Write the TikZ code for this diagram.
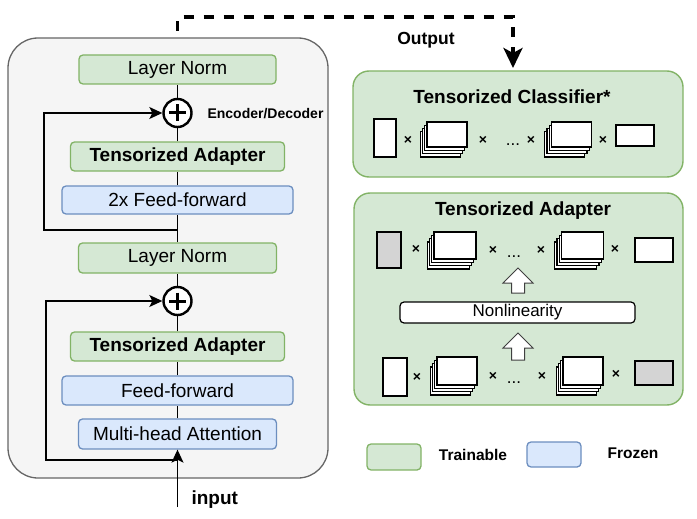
\documentclass[tikz,border=0pt]{standalone}
\usepackage{fontspec}
\setmainfont{Liberation Sans}
\usetikzlibrary{arrows.meta,positioning}

\definecolor{trainfill}{HTML}{D5E8D4}
\definecolor{traindraw}{HTML}{82B366}
\definecolor{frozenfill}{HTML}{DAE8FC}
\definecolor{frozendraw}{HTML}{6C8EBF}
\definecolor{blockfill}{HTML}{F5F5F5}
\definecolor{blockdraw}{HTML}{666666}
\definecolor{coregray}{HTML}{D4D4D4}

\tikzset{
  trainable/.style={draw=traindraw, fill=trainfill, line width=1.3pt, rounded corners=4pt,
    inner sep=0pt, minimum height=29pt, font=\fontsize{19}{22}\selectfont},
  frozen/.style={draw=frozendraw, fill=frozenfill, line width=1.3pt, rounded corners=4pt,
    inner sep=0pt, minimum height=29pt, font=\fontsize{19}{22}\selectfont},
  boldtext/.style={font=\bfseries\fontsize{19}{22}\selectfont},
  panel/.style={draw=traindraw, fill=trainfill, line width=1.4pt, rounded corners=16pt, inner sep=0pt},
  core/.style={draw, fill=white, line width=1.2pt, inner sep=0pt},
  corelayer/.style={draw, fill=white, line width=1.2pt},
  times/.style={font=\bfseries\fontsize{14}{14}\selectfont, inner sep=0pt},
  dots/.style={font=\fontsize{17}{17}\selectfont, inner sep=0pt},
  addop/.style={circle, draw, line width=2.4pt, fill=white, minimum size=28pt, inner sep=0pt},
  flow/.style={line width=1.3pt},
  hollow/.style={draw=black!75, fill=white, line width=1pt, line join=miter},
}

\begin{document}
\begin{tikzpicture}[x=1pt,y=-1pt]
\useasboundingbox (0,0) rectangle (697,519);

% encoder/decoder block
\draw[draw=blockdraw, fill=blockfill, line width=1.3pt, rounded corners=30pt] (8,38) rectangle (328,478);
\node[trainable, minimum width=197pt] (ln1) at (177.5,69.5) {Layer Norm};
\node[addop] (add1) at (177.5,113) {};
\node[trainable, boldtext, minimum width=214pt] (ta1) at (177.5,156.5) {Tensorized Adapter};
\node[frozen, minimum width=231pt, minimum height=28pt] (ff2) at (177.5,200) {2x Feed-forward};
\node[trainable, minimum width=198pt, minimum height=30pt] (ln2) at (177.5,258) {Layer Norm};
\node[addop] (add2) at (177.5,301) {};
\node[trainable, boldtext, minimum width=214pt] (ta2) at (177.5,346.5) {Tensorized Adapter};
\node[frozen, minimum width=231pt] (ff1) at (177.5,390.5) {Feed-forward};
\node[frozen, minimum width=198pt, minimum height=30pt] (mha) at (177.5,434) {Multi-head Attention};
\node[font=\bfseries\fontsize{14}{16}\selectfont] (enc) at (265.5,114) {Encoder/Decoder};

\foreach \p in {add1,add2}
  \draw[line width=3pt] (\p.center) +(-8.5,0) -- +(8.5,0) (\p.center) +(0,-8.5) -- +(0,8.5);

\draw[flow] (mha) -- (ff1) (ff1) -- (ta2) (ta2) -- (add2) (add2) -- (ln2)
  (ln2) -- (ff2) (ff2) -- (ta1) (ta1) -- (add1) (add1) -- (ln1);

% residual paths
\coordinate (br1) at (177.5,230);
\coordinate (loop1) at (44,113);
\coordinate (br2) at (177.5,460);
\coordinate (loop2) at (46,301);
\draw[flow, -{Stealth[length=13pt,width=12pt,inset=3pt]}] (br1) -| (loop1) -- (add1);
\draw[flow, -{Stealth[length=13pt,width=12pt,inset=3pt]}] (br2) -| (loop2) -- (add2);

\coordinate (inp) at (177.5,507);
\draw[flow, -{Stealth[length=13pt,width=12pt,inset=3pt]}] (inp) -- (mha);
\node[boldtext, anchor=west] (inlbl) at (188,500) {input};

% output to classifier
\coordinate (outstart) at (177.5,31);
\coordinate (outturn) at (177.5,17);
\coordinate (outend) at (513,68);
\draw[line width=3.5pt, dash pattern=on 10pt off 10pt, -{Stealth[length=20pt,width=19pt,inset=5pt]}]
  (outstart) -- (outturn) -| (outend);
\node[font=\bfseries\fontsize{17.5}{20}\selectfont] (outlbl) at (426,40) {Output};

% tensorized classifier
\node[panel, minimum width=330pt, minimum height=106pt] (cls) at (518,124) {};
\node[boldtext] (clstitle) at (512,97) {Tensorized Classifier*};
\node[core, minimum width=22pt, minimum height=38pt] (c0) at (385,138) {};
\node[core, minimum width=38pt, minimum height=21pt] (c3) at (635,135.5) {};

% tensorized adapter
\node[panel, minimum width=329pt, minimum height=212pt] (adp) at (518.5,299) {};
\node[boldtext] (adptitle) at (523,211) {Tensorized Adapter};
\node[core, fill=coregray, minimum width=24pt, minimum height=36pt] (a0) at (389,250) {};
\node[core, minimum width=38pt, minimum height=24pt] (a3) at (654,250) {};
\node[core, minimum width=24pt, minimum height=38pt] (b0) at (395,377) {};
\node[core, fill=coregray, minimum width=38pt, minimum height=24pt] (b3) at (654,373) {};
\node[core, rounded corners=4pt, minimum width=235pt, minimum height=21pt,
  font=\fontsize{17}{20}\selectfont] (nonlin) at (517.5,312.5) {Nonlinearity};

% stacked cores
\foreach \n/\cx/\cy/\w/\h in {c1/447/134.5/40/25, c2/571.5/134.5/40/25,
    a1/455/245.5/42/27, a2/582.5/245.5/42/27, b1/457/371/40/28, b2/583/371/40/28} {
  \foreach \k in {3,2,1}
    \draw[corelayer] (\cx-\w/2-2.3*\k, \cy-\h/2+3.3*\k) rectangle ++(\w,\h);
  \node[core, minimum width=\w pt, minimum height=\h pt] (\n) at (\cx,\cy) {};
}

\foreach \x/\y [count=\i] in {408/140, 483/140, 531/140, 603/140,
    416/249, 493/250, 541/250, 615/249, 417/377, 493/376, 542/376, 616/374}
  \node[times] (x\i) at (\x,\y) {×};
\foreach \x/\y [count=\i] in {513/145, 514/257, 514/383}
  \node[dots] (d\i) at (\x,\y) {...};

% hollow arrows into and out of the nonlinearity
\foreach \yb/\yh/\yt in {293/283/268, 360/348/333}
  \draw[hollow] (511.5,\yb) -- (524.5,\yb) -- (524.5,\yh) -- (533,\yh) -- (518,\yt)
    -- (503,\yh) -- (511.5,\yh) -- cycle;

% legend
\node[trainable, minimum width=54pt, minimum height=26pt] (lgtrain) at (394,457) {};
\node[font=\bfseries\fontsize{15.5}{18}\selectfont] (lgtraintxt) at (473,455) {Trainable};
\node[frozen, minimum width=54pt, minimum height=25pt] (lgfrozen) at (554,454.5) {};
\node[font=\bfseries\fontsize{15.5}{18}\selectfont] (lgfrozentxt) at (633,453) {Frozen};
\end{tikzpicture}
\end{document}
